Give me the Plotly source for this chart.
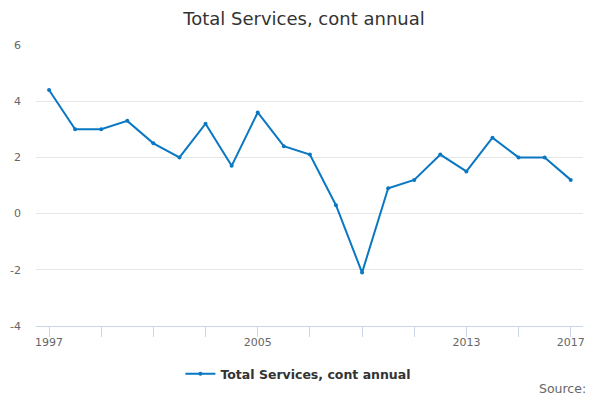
import plotly.graph_objects as go

years = list(range(1997, 2018))
values = [4.4, 3.0, 3.0, 3.3, 2.5, 2.0, 3.2, 1.7, 3.6, 2.4, 2.1,
          0.3, -2.1, 0.9, 1.2, 2.1, 1.5, 2.7, 2.0, 2.0, 1.2]
series_name = "Total Services, cont annual"
x_labels = [1997, 2005, 2013, 2017]
y_ticks = [-4, -2, 0, 2, 4, 6]

line_color = "#0a77c2"
font_family = "DejaVu Sans"

fig = go.Figure()
fig.add_scatter(
    x=years,
    y=values,
    name=series_name,
    mode="lines+markers",
    line=dict(color=line_color, width=2),
    marker=dict(color=line_color, size=4),
)

# page body has an 8px margin, so the figure is drawn 8px smaller
fig.update_layout(
    width=592,
    height=392,
    margin=dict(l=28, r=17, t=37, b=73),
    paper_bgcolor="white",
    plot_bgcolor="white",
    font=dict(family=font_family, color="#666666", size=11),
    title=dict(
        text=series_name,
        x=0.5, xanchor="center",
        y=0.974, yanchor="middle",
        font=dict(size=18, color="#333333", family=font_family),
    ),
    showlegend=True,
    legend=dict(
        orientation="h",
        x=0.264, xanchor="left",
        y=-0.167, yanchor="middle",
        itemwidth=30,
        font=dict(size=12.5, color="#333333", weight="bold"),
    ),
    annotations=[
        dict(
            text="Source:",
            xref="paper", yref="paper",
            x=1.01, xanchor="right",
            y=-0.223, yanchor="middle",
            showarrow=False,
            font=dict(size=12.5, color="#666666"),
        )
    ],
)

fig.update_xaxes(
    range=[1996.5, 2017.47],
    tickvals=x_labels,
    ticks="outside",
    ticklen=10,
    tickcolor="#ccd6eb",
    showgrid=False,
    showline=True,
    linecolor="#ccd6eb",
    linewidth=1,
    zeroline=False,
    automargin=False,
    ticklabelstandoff=-4,
    minor=dict(dtick=2, tick0=1997, ticks="outside", ticklen=10,
               tickcolor="#ccd6eb", showgrid=False),
)
fig.update_yaxes(
    range=[-4, 6],
    tickvals=y_ticks,
    ticktext=[str(v) for v in y_ticks],
    showgrid=True,
    gridcolor="#e6e6e6",
    zeroline=False,
    ticks="",
    automargin=False,
    ticklabelstandoff=14,
)

fig.write_html("out.html")
